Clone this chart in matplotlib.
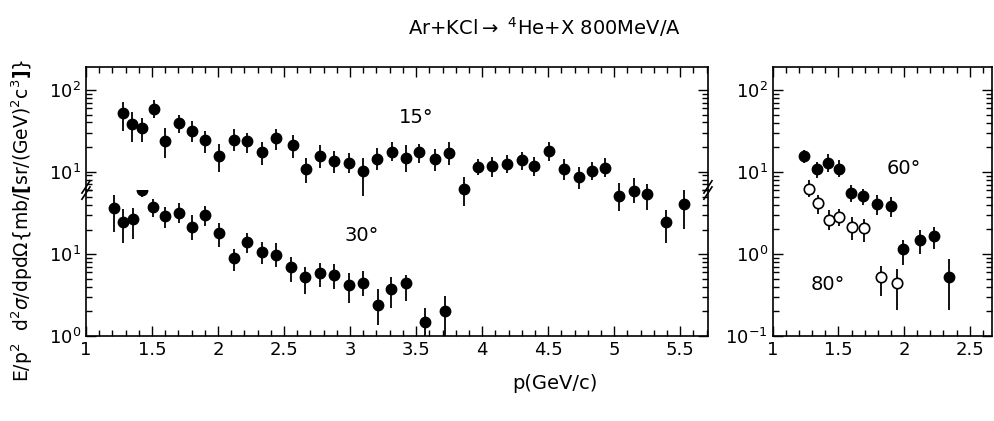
import matplotlib.pyplot as plt
import numpy as np
from matplotlib.ticker import MultipleLocator, FuncFormatter, LogLocator

plt.rcParams['font.family'] = 'DejaVu Sans'
plt.rcParams['mathtext.fontset'] = 'dejavusans'

# 15 deg (upper part of the left panel)
p15 = [1.277, 1.35, 1.426, 1.516, 1.597, 1.703, 1.80, 1.90, 2.005, 2.118, 2.22, 2.33,
       2.44, 2.564, 2.668, 2.776, 2.88, 2.99, 3.10, 3.205, 3.32, 3.42, 3.52, 3.64, 3.75,
       3.86, 3.97, 4.075, 4.19, 4.30, 4.395, 4.506, 4.62, 4.73, 4.83, 4.93, 5.04, 5.15,
       5.25, 5.39, 5.53]
y15 = [51.8, 38.4, 34.0, 59.0, 24.0, 39.0, 31.5, 24.4, 15.6, 24.4, 23.8, 17.6,
       25.6, 21.2, 10.7, 15.6, 13.6, 12.6, 10.3, 14.2, 17.6, 14.8, 17.3, 14.2, 16.7,
       6.1, 11.5, 11.7, 12.4, 13.9, 11.7, 17.9, 10.8, 8.7, 10.2, 11.2, 5.0, 5.85,
       5.3, 2.4, 4.0]
hi15 = [70.6, 54.0, 46.0, 75.5, 34.0, 49.4, 42.0, 31.8, 22.0, 33.0, 30.0, 23.3,
        33.0, 28.0, 14.6, 21.2, 18.1, 17.1, 14.6, 19.3, 23.3, 21.2, 21.9, 18.8, 23.3,
        8.5, 14.2, 15.0, 16.0, 17.6, 15.0, 23.3, 14.2, 11.5, 13.3, 14.6, 7.3, 8.3,
        7.1, 3.4, 5.9]
lo15 = [31.8, 23.3, 23.3, 45.0, 14.9, 29.5, 23.3, 16.8, 10.0, 17.9, 16.8, 12.0,
        18.4, 14.6, 7.3, 11.0, 9.5, 9.7, 5.0, 10.5, 13.6, 10.0, 12.7, 10.3, 12.0,
        3.8, 9.0, 8.5, 9.5, 10.5, 8.9, 13.6, 7.8, 6.1, 7.8, 8.7, 3.3, 4.1,
        3.4, 1.34, 2.0]

# 30 deg (lower part of the left panel)
p30 = [1.214, 1.282, 1.353, 1.428, 1.509, 1.602, 1.703, 1.80, 1.90, 2.005, 2.118, 2.222,
       2.335, 2.44, 2.55, 2.66, 2.776, 2.88, 2.995, 3.10, 3.21, 3.31, 3.425, 3.565, 3.72]
y30 = [36.9, 24.9, 26.6, 60.8, 37.3, 29.4, 32.0, 21.6, 30.0, 17.9, 9.0, 13.9,
       10.5, 9.7, 7.0, 5.3, 5.9, 5.5, 4.2, 4.5, 2.4, 3.7, 4.4, 1.48, 2.0]
hi30 = [52.7, 35.2, 36.9, 72.0, 46.7, 38.0, 41.7, 30.0, 38.7, 23.7, 11.7, 18.2,
        14.1, 13.8, 9.3, 7.0, 7.7, 7.5, 5.9, 6.2, 3.7, 5.2, 5.5, 2.2, 3.1]
lo30 = [18.7, 13.8, 15.5, 49.4, 28.7, 21.0, 24.2, 14.8, 22.0, 12.3, 6.2, 10.4,
        7.5, 6.9, 4.6, 3.3, 4.0, 3.8, 2.5, 3.1, 1.35, 2.2, 2.7, 0.97, 0.99]

# 60 deg (right panel, filled)
p60 = [1.239, 1.335, 1.419, 1.508, 1.594, 1.69, 1.792, 1.898, 1.995, 2.122, 2.228, 2.345]
y60 = [15.6, 11.0, 13.0, 11.0, 5.5, 5.1, 4.1, 3.8, 1.15, 1.48, 1.64, 0.52]
hi60 = [18.8, 13.3, 16.8, 14.2, 6.9, 6.2, 5.2, 4.9, 1.48, 1.97, 2.16, 0.87]
lo60 = [12.9, 8.5, 10.0, 8.7, 4.3, 4.0, 3.0, 2.8, 0.74, 1.0, 1.15, 0.21]

# 80 deg (right panel, open)
p80 = [1.274, 1.343, 1.431, 1.508, 1.602, 1.695, 1.822, 1.944]
y80 = [6.25, 4.2, 2.6, 2.8, 2.16, 2.06, 0.53, 0.44]
hi80 = [7.9, 5.2, 3.4, 3.55, 2.8, 2.7, 0.72, 0.65]
lo80 = [4.9, 3.1, 1.98, 2.2, 1.5, 1.4, 0.31, 0.21]


def yerr(y, lo, hi):
    y = np.array(y)
    return [y - np.array(lo), np.array(hi) - y]


def style(ax):
    ax.set_yscale('log')
    ax.xaxis.set_major_locator(MultipleLocator(0.5))
    ax.xaxis.set_minor_locator(MultipleLocator(0.1))
    ax.xaxis.set_major_formatter(FuncFormatter(lambda v, _: '%g' % v))
    ax.yaxis.set_major_locator(LogLocator(base=10))
    ax.yaxis.set_minor_locator(LogLocator(base=10, subs=np.arange(2, 10)))
    ax.tick_params(which='both', direction='in', top=True, right=True,
                   labelsize=13, width=1.0)
    ax.tick_params(which='major', length=7)
    ax.tick_params(which='minor', length=4)
    for s in ax.spines.values():
        s.set_linewidth(1.2)


fig = plt.figure(figsize=(9.95, 4.21), dpi=100)
ax_bot = fig.add_axes([0.0864, 0.2019, 0.6251, 0.3468])
ax_top = fig.add_axes([0.0864, 0.5487, 0.6251, 0.2922])
ax_r = fig.add_axes([0.7766, 0.2019, 0.2204, 0.639])

for ax in (ax_top, ax_bot, ax_r):
    style(ax)

# top part sits above the lower one so that its low points can spill over the break
ax_top.set_zorder(3)
ax_top.patch.set_visible(False)

kw = dict(fmt='o', color='black', ms=7.5, elinewidth=1.3, capsize=0)

ax_top.errorbar(p15, y15, yerr=yerr(y15, lo15, hi15), clip_on=False, **kw)
ax_top.set_xlim(1, 5.71)
ax_top.set_ylim(5.965, 191)
ax_top.spines['bottom'].set_visible(False)
ax_top.tick_params(which='both', bottom=False, labelbottom=False)
ax_top.text(3.5, 46, '15°', fontsize=14, ha='center', va='center')

ax_bot.errorbar(p30, y30, yerr=yerr(y30, lo30, hi30), **kw)
ax_bot.set_xlim(1, 5.71)
ax_bot.set_ylim(1, 60.8)
ax_bot.spines['top'].set_visible(False)
ax_bot.tick_params(which='both', top=False)
ax_bot.text(3.09, 17, '30°', fontsize=14, ha='center', va='center')

# break marks on both sides of the left panel
dx, dy = 0.0065, 0.05
for xe in (0, 1):
    for off in (-0.025, 0.025):
        ax_top.plot([xe - dx, xe + dx], [off - dy, off + dy], color='black', lw=1.2,
                    transform=ax_top.transAxes, clip_on=False)

ax_r.errorbar(p60, y60, yerr=yerr(y60, lo60, hi60), **kw)
ax_r.errorbar(p80, y80, yerr=yerr(y80, lo80, hi80), fmt='o', color='black', mfc='white',
              mec='black', mew=1.2, ms=7.5, elinewidth=1.3, capsize=0)
ax_r.set_xlim(1, 2.67)
ax_r.set_ylim(0.1, 191)
ax_r.text(1.995, 11, '60°', fontsize=14, ha='center', va='center')
ax_r.text(1.42, 0.42, '80°', fontsize=14, ha='center', va='center')

fig.text(0.547, 0.935, r'Ar+KCl$\rightarrow$ $^4$He+X 800MeV/A', ha='center',
         va='center', fontsize=14)
fig.text(0.558, 0.09, 'p(GeV/c)', ha='center', va='center', fontsize=14)
fig.text(0.022, 0.477,
         r'E/p$^2$  d$^2\sigma$/dpd$\Omega\{$mb/$\mathbf{[}$sr/(GeV)$^2$c$^3\mathbf{]}\}$',
         rotation=90, ha='center', va='center', fontsize=13.5)

fig.savefig('out.png', dpi=100)
